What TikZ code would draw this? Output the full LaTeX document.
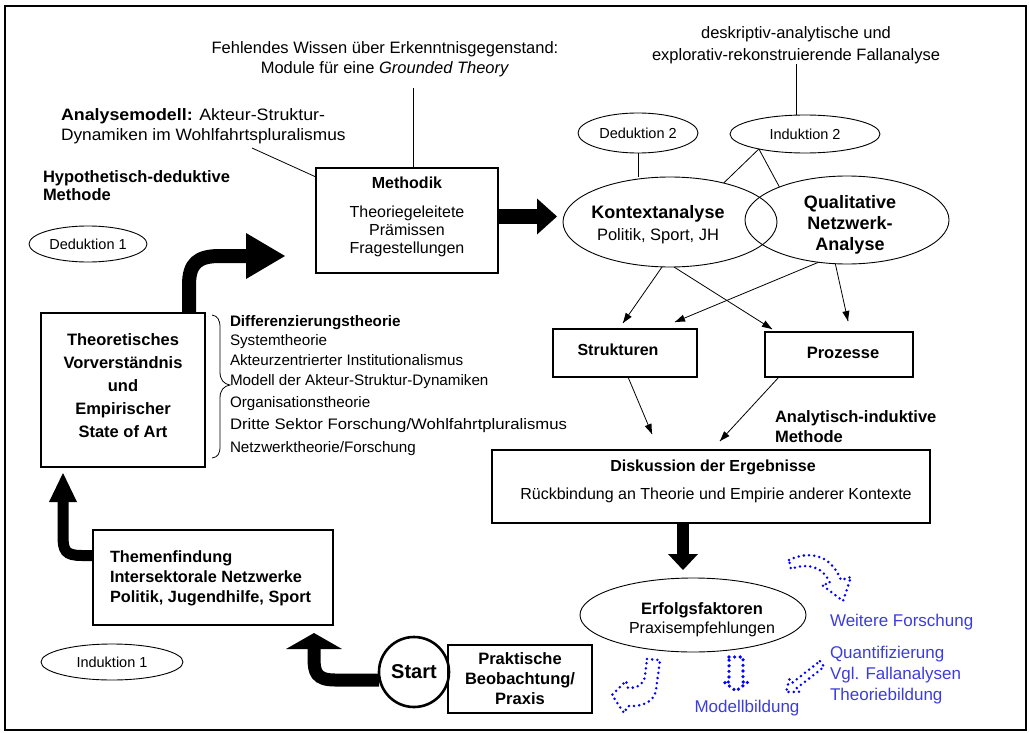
\documentclass[tikz,border=0pt]{standalone}
\usepackage{fontspec}
\setmainfont{Liberation Sans}
\usetikzlibrary{shapes.geometric,calc}
\newcommand\fsz[2]{\fontsize{#1}{#2}\selectfont}
\definecolor{noteblue}{RGB}{60,60,222}
\definecolor{dotblue}{RGB}{0,0,255}

\begin{document}
\begin{tikzpicture}[x=1pt,y=-1pt,
  every node/.style={inner sep=0pt, outer sep=0pt},
  box/.style={draw, rectangle, line width=1.1pt},
  oval/.style={draw, ellipse, line width=0.9pt},
  link/.style={line width=0.8pt},
  flow/.style={line width=0.8pt},
  dotarrow/.style={draw=dotblue, line width=2.8pt, line cap=round, line join=round, dash pattern=on 0pt off 5.2pt},
  note/.style={text=noteblue, font=\fsz{17}{21}}]
\useasboundingbox (0,0) rectangle (1030,733);
\draw[line width=2pt] (5,6) rectangle (1026,730);

% ---------- boxes ----------
\node[box, minimum width=182pt, minimum height=105pt] (meth) at (407,220.5) {};
\node[anchor=north, align=center, font=\fsz{16}{18}] (methtext) at (407,176.6)
  {\textbf{Methodik}\\[11pt]Theoriegeleitete\\Prämissen\\Fragestellungen};

\node[box, minimum width=164pt, minimum height=154pt] (theo) at (123,390) {};
\node[anchor=north, align=center, font=\bfseries\fsz{16.5}{23}] (theotext) at (123,333.4)
  {Theoretisches\\Vorverständnis\\und\\Empirischer\\State of Art};

\node[box, minimum width=240pt, minimum height=95pt] (them) at (213,577.5) {};
\node[anchor=north west, align=left, font=\bfseries\fsz{16.3}{20}] (themtext) at (110,550.5)
  {Themenfindung\\Intersektorale Netzwerke\\Politik, Jugendhilfe, Sport};

\node[box, minimum width=144pt, minimum height=68pt, align=center, font=\bfseries\fsz{16.5}{20}] (prak) at (520,679)
  {Praktische\\Beobachtung/\\Praxis};
\node[circle, draw, line width=2.6pt, minimum size=70pt, font=\bfseries\fsz{20}{24}] (start) at (414,672) {Start};

\node[box, minimum width=144pt, minimum height=48pt] (struk) at (625,353) {};
\node[font=\bfseries\fsz{16}{20}] (struktext) at (618,350) {Strukturen};
\node[box, minimum width=148pt, minimum height=45pt] (proz) at (839,354.5) {};
\node[font=\bfseries\fsz{16.5}{20}] (proztext) at (843,353) {Prozesse};

\node[box, minimum width=438pt, minimum height=73pt] (disk) at (711,486.5) {};
\node[font=\bfseries\fsz{16}{20}] (disktitle) at (713,467) {Diskussion der Ergebnisse};
\node[font=\fsz{16}{20}] (disksub) at (716,495) {Rückbindung an Theorie und Empirie anderer Kontexte};

% ---------- ellipses ----------
\node[oval, minimum width=118pt, minimum height=36pt, font=\fsz{14.5}{18}] (ded1) at (88,244) {Deduktion 1};
\node[oval, minimum width=142pt, minimum height=36pt, font=\fsz{14.5}{18}] (ind1) at (112,662) {Induktion 1};
\node[oval, minimum width=120pt, minimum height=40pt, font=\fsz{14.5}{18}] (ded2) at (638,133) {Deduktion 2};
\node[oval, minimum width=150pt, minimum height=38pt, font=\fsz{14.5}{18}] (ind2) at (805,134) {Induktion 2};

\node[oval, minimum width=214pt, minimum height=90pt] (kontext) at (670,222) {};
\node[anchor=north, align=center, font=\fsz{16.5}{22}] (kontexttext) at (658,205.8)
  {{\bfseries\fontsize{18}{22}\selectfont Kontextanalyse}\\Politik, Sport, JH};
\node[oval, minimum width=204pt, minimum height=88pt] (qual) at (847,220) {};
\node[anchor=north, align=center, font=\bfseries\fsz{18}{21}] (qualtext) at (850,195.8)
  {Qualitative\\Netzwerk-\\Analyse};

\node[oval, minimum width=226pt, minimum height=74pt] (erf) at (693,615) {};
\node[anchor=north, align=center, font=\fsz{16}{19}] (erftext) at (702,602.4)
  {{\bfseries\fontsize{16.5}{19}\selectfont Erfolgsfaktoren}\\Praxisempfehlungen};

% ---------- annotations ----------
\node[anchor=north, align=center, font=\fsz{16.5}{20}] (fw) at (385,41.4)
  {Fehlendes Wissen über Erkenntnisgegenstand:\\Module für eine \textit{Grounded Theory}};
\node[anchor=north, align=center, font=\fsz{16.5}{22}] (fa) at (796,26.4)
  {deskriptiv-analytische und\\explorativ-rekonstruierende Fallanalyse};
\node[anchor=north west, align=left, font=\fsz{16.5}{20}] (am) at (61,108.4)
  {\scalebox{1.08}[1]{\textbf{Analysemodell:} Akteur-Struktur-}\\\scalebox{1.05}[1]{Dynamiken im Wohlfahrtspluralismus}};
\node[anchor=north west, align=left, font=\bfseries\fsz{16.5}{18}] (hd) at (43,170.4)
  {Hypothetisch-deduktive\\Methode};
\node[anchor=north west, align=left, font=\bfseries\fsz{16.5}{20}] (ai) at (775,410.4)
  {Analytisch-induktive\\Methode};
\node[anchor=north west, align=left, font=\fsz{15.2}{19.7}] (diff) at (230,315)
  {\textbf{Differenzierungstheorie}\\Systemtheorie\\Akteurzentrierter Institutionalismus\\
   Modell der Akteur-Struktur-Dynamiken\\[2.5pt]Organisationstheorie\\[2.5pt]
   \scalebox{1.1}[1]{Dritte Sektor Forschung/Wohlfahrtpluralismus}\\[3pt]Netzwerktheorie/Forschung};

% brace in front of the theory list
\draw[line width=0.8pt] (212,315) .. controls (218,316) and (220,320) .. (220,328) -- (220,372)
  .. controls (220,380) and (224,384) .. (230,385) .. controls (224,386) and (220,390) .. (220,398)
  -- (220,446) .. controls (220,454) and (218,457) .. (212,458);

\node[note, anchor=west] (wf) at (830,622) {Weitere Forschung};
\node[note, anchor=north west, align=left] (qvt) at (830,646.2) {Quantifizierung\\Vgl. Fallanalysen\\Theoriebildung};
\node[note] (mb) at (747,708) {Modellbildung};

% ---------- thin connectors ----------
\coordinate (fwfoot) at (413,88);
\draw[link] (fwfoot) -- (fwfoot |- meth.north);
\draw[link] (fa.south) -- (fa.south |- ind2.north);
\coordinate (amfoot) at (252,148);
\draw[link] (amfoot) -- ($(meth.north west)+(0,9)$);
\draw[link] (ded2.south) -- (ded2.south |- kontext.north);
\draw[link] (ind2.198) -- (kontext.36);
\draw[link] (ind2.198) -- (qual.154);

% ---------- thin arrows with filled heads ----------
\coordinate (a1s) at (kontext.260);  \coordinate (a1e) at ($(struk.north)+(-2,-6)$);
\coordinate (a2s) at (kontext.275);  \coordinate (a2e) at ($(proz.north west)+(7,-3)$);
\coordinate (a3s) at (qual.236);     \coordinate (a3e) at ($(struk.north east)+(-22,-7)$);
\coordinate (a4s) at (qual.255);     \coordinate (a4e) at ($(proz.north)+(9,-11)$);
\coordinate (a5s) at ($(struk.south)+(3,0)$);      \coordinate (a5e) at ($(disk.north west)+(160,-16)$);
\coordinate (a6s) at ($(proz.south west)+(14,0)$); \coordinate (a6e) at ($(disk.north west)+(228,-9)$);
\foreach \s/\e in {a1s/a1e,a2s/a2e,a3s/a3e,a4s/a4e,a5s/a5e,a6s/a6e}{
  \draw[flow] (\s) -- (\e);
  \fill (\e) -- ($(\e)!10pt!(\s)!3.6pt!90:(\s)$) -- ($(\e)!10pt!(\s)!3.6pt!-90:(\s)$) -- cycle;
}

% ---------- bold block arrows ----------
\coordinate (h1) at ($(meth.south west)+(-31,-17)$);
\draw[line width=14pt] ($(theo.north east)+(-16,0)$) -- ++(0,-28)
  .. controls +(0,-22) and +(-22,0) .. ++(31,-29) -- ($(h1)+(-38,0)$);
\fill ($(h1)+(-39,-23)$) -- (h1) -- ($(h1)+(-39,23)$) -- cycle;

\coordinate (h2) at ($(kontext.west)+(-6,-5.5)$);
\draw[line width=15pt] ($(meth.east)+(0,-4)$) -- ($(h2)+(-19,0)$);
\fill ($(h2)+(-20,-18)$) -- (h2) -- ($(h2)+(-20,18)$) -- cycle;

\coordinate (h3) at ($(disk.south west |- erf.north)+(191,-8)$);
\draw[line width=12pt] ($(disk.south west)+(191,0)$) -- ($(h3)+(0,-15)$);
\fill ($(h3)+(-15,-16)$) -- (h3) -- ($(h3)+(15,-16)$) -- cycle;

\coordinate (h4) at ($(theo.south west)+(22,6)$);
\draw[line width=11pt] ($(them.west)+(0,-22)$) -- ++(-11,0)
  .. controls +(-17,0) and +(0,15) .. ++(-19,-20) -- ($(h4)+(0,28)$);
\fill ($(h4)+(-14,29)$) -- (h4) -- ($(h4)+(14,29)$) -- cycle;

\coordinate (h5) at ($(them.south west)+(221,8)$);
\draw[line width=13pt] ($(start.west)+(0,8)$) -- ++(-44,0)
  .. controls +(-19,0) and +(0,14) .. ++(-21,-22) -- ($(h5)+(0,15)$);
\fill ($(h5)+(-28,16)$) -- (h5) -- ($(h5)+(28,16)$) -- cycle;

% ---------- dotted outline arrows ----------
\path[dotarrow] (789,560) .. controls (808,551) and (830,553) .. (841,580) -- (851,577)
  -- (843,601) -- (822,585) -- (830,583) .. controls (822,565) and (806,563) .. (791,569) -- cycle;
\path[dotarrow] (647,659) -- (660,660) -- (656,690) .. controls (654,702) and (642,707) .. (628,706)
  -- (624,713) -- (612,695) -- (626,681) -- (628,688) .. controls (638,688) and (644,684) .. (645,676) -- cycle;
\path[dotarrow, line width=3.6pt, dash pattern=on 0pt off 5.6pt] (729,657) -- (743,657) -- (743,682)
  -- (748,682) -- (736,691) -- (724,682) -- (729,682) -- cycle;
\path[dotarrow] (819.9,661.2) -- (824.1,666.8) -- (796.5,688.3) -- (799.3,691.8) -- (786,692)
  -- (789.5,679.2) -- (792.3,682.7) -- cycle;
\end{tikzpicture}
\end{document}
